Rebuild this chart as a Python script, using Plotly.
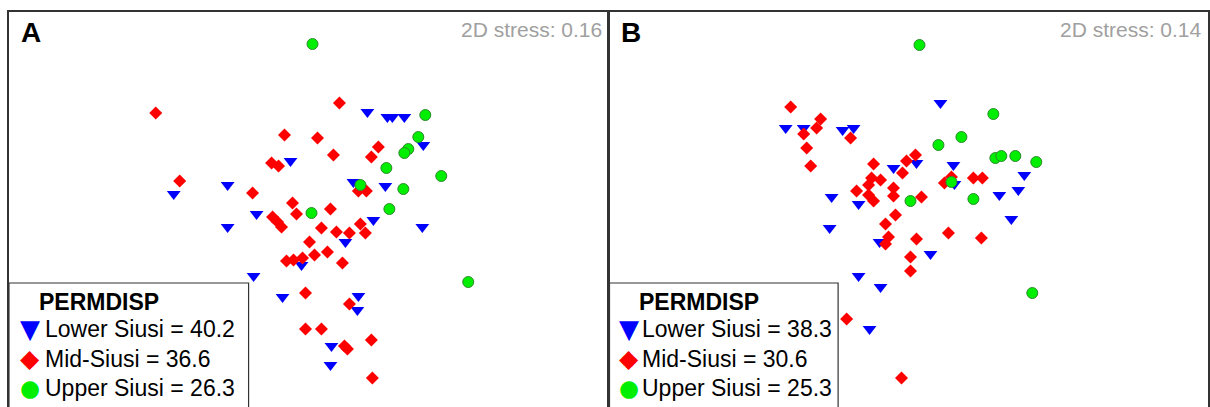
import plotly.graph_objects as go
from plotly.subplots import make_subplots

# ordination scores (plot units, y grows downward)
# panel A
a_lower_x = [291, 228, 174, 368, 388, 393, 405, 424, 354, 386, 257, 228, 374, 423, 346, 302, 254, 283, 359, 358, 332, 331]
a_lower_y = [161, 185, 194, 112, 117, 117, 117, 145, 182, 186, 214, 227, 220, 227, 242, 265, 276, 297, 296, 310, 346, 365]
a_mid_x = [156, 285, 272, 279, 180, 253, 340, 318, 379, 334, 372, 359, 367, 293, 297, 331, 273, 278, 282, 322,
           337, 350, 361, 366, 310, 328, 315, 287, 294, 303, 343, 306, 350, 306, 322, 372, 345, 348, 373]
a_mid_y = [113, 135, 163, 166, 181, 193, 103, 138, 147, 155, 157, 191, 191, 203, 214, 209, 217, 222, 227, 228,
           232, 233, 224, 233, 242, 252, 255, 261, 260, 258, 263, 293, 304, 329, 329, 340, 346, 349, 378]
a_upper_x = [313, 426, 419, 409, 405, 387, 442, 361, 404, 312, 390, 469]
a_upper_y = [44, 115, 137, 149, 153, 168, 176, 185, 189, 213, 209, 282]

# panel B
b_lower_x = [787, 805, 844, 855, 942, 895, 833, 918, 955, 956, 860, 831, 881, 932, 860, 882, 1013, 1026, 1020, 1001, 871]
b_lower_y = [128, 128, 130, 128, 103, 168, 197, 163, 165, 184, 204, 228, 242, 254, 276, 287, 219, 175, 190, 195, 329]
b_mid_x = [792, 822, 818, 805, 852, 808, 812, 875, 917, 908, 904, 873, 882, 870, 858, 895, 895, 946, 953, 975,
           984, 923, 870, 875, 897, 887, 950, 983, 890, 887, 918, 912, 912, 848, 903]
b_mid_y = [107, 119, 128, 134, 138, 148, 166, 164, 155, 161, 173, 178, 180, 185, 191, 188, 196, 183, 177, 178,
           178, 197, 195, 201, 215, 224, 233, 238, 237, 244, 239, 257, 271, 319, 378]
b_upper_x = [921, 995, 963, 940, 997, 1003, 1017, 1038, 953, 912, 975, 1034]
b_upper_y = [45, 114, 137, 145, 158, 156, 156, 162, 182, 201, 199, 293]

a_labels = ["Lower Siusi = 40.2", "Mid-Siusi = 36.6", "Upper Siusi = 26.3"]
b_labels = ["Lower Siusi = 38.3", "Mid-Siusi = 30.6", "Upper Siusi = 25.3"]
stress = ["2D stress: 0.16", "2D stress: 0.14"]

W, H = 1210, 407
FONT = "Arial, Liberation Sans, sans-serif"

styles = [
    dict(symbol="triangle-down", size=12, color="#0000ff", line=dict(width=0)),
    dict(symbol="diamond", size=10, color="#ff0000", line=dict(width=0)),
    dict(symbol="circle", size=11, color="#00ee00", line=dict(width=1, color="#2e8b2e")),
]
# legend glyphs (colour, char, size)
glyphs = [("#0000ff", "▼", 26), ("#ff0000", "◆", 25), ("#00ee00", "●", 23)]

fig = make_subplots(rows=1, cols=2, horizontal_spacing=0)

panels = [
    (1, a_labels, [(a_lower_x, a_lower_y), (a_mid_x, a_mid_y), (a_upper_x, a_upper_y)]),
    (2, b_labels, [(b_lower_x, b_lower_y), (b_mid_x, b_mid_y), (b_upper_x, b_upper_y)]),
]
for col, labels, series in panels:
    for (xs, ys), name, st in zip(series, labels, styles):
        fig.add_trace(go.Scatter(x=xs, y=ys, mode="markers", name=name, showlegend=False,
                                 marker=st, hoverinfo="skip"), row=1, col=col)

# panel frames: top line + left/right lines, open at the bottom
top = 1 - 12 / H
fig.update_layout(
    xaxis=dict(domain=[9 / W, 609.5 / W], range=[9, 609.5]),
    xaxis2=dict(domain=[610.5 / W, 1], range=[610.5, 1210]),
    yaxis=dict(domain=[0, top], range=[407, 12]),
    yaxis2=dict(domain=[0, top], range=[407, 12]),
)
fig.update_xaxes(showgrid=False, zeroline=False, showticklabels=False, ticks="",
                 showline=True, side="top", linecolor="#333", linewidth=1.5, mirror=False)
fig.update_yaxes(showgrid=False, zeroline=False, showticklabels=False, ticks="",
                 showline=True, mirror=True, linecolor="#333", linewidth=1.5)


def px_x(v):
    return v / W


def px_y(v):
    return 1 - v / H


annotations = []
shapes = []
boxes = [(9, 609.5, 240, "A", a_labels), (610.5, 1210, 229, "B", b_labels)]
for i, (x0, x1, bw, letter, labels) in enumerate(boxes):
    annotations.append(dict(x=px_x(x0 + 10), y=px_y(32.5), text="<b>%s</b>" % letter,
                            xanchor="left", font=dict(size=28, color="black", family=FONT)))
    annotations.append(dict(x=px_x(x1 - 4), y=px_y(29.5), text=stress[i], xanchor="right",
                            font=dict(size=21, color="#a0a0a0", family=FONT)))
    annotations.append(dict(x=px_x(x0 + 28), y=px_y(302), text="<b>PERMDISP</b>", xanchor="left",
                            font=dict(size=23, color="black", family=FONT)))
    gx = x0 + 21 - 1.5 * i
    tx = x0 + 34 - 3 * i
    for row, (label, (gc, ch, gs)) in enumerate(zip(labels, glyphs)):
        ry = 329 + 29.5 * row
        annotations.append(dict(x=px_x(gx), y=px_y(ry), text=ch, xanchor="center",
                                font=dict(size=gs, color=gc, family="DejaVu Sans")))
        annotations.append(dict(x=px_x(tx), y=px_y(ry), text=label, xanchor="left",
                                font=dict(size=23, color="black", family=FONT)))
    shapes.append(dict(type="rect", xref="paper", yref="paper",
                       x0=px_x(x0), x1=px_x(x0 + bw), y0=-0.2, y1=px_y(283),
                       line=dict(color="#333", width=1.2), fillcolor="white", layer="below"))

for a in annotations:
    a.update(xref="paper", yref="paper", showarrow=False, yanchor="middle")

fig.update_layout(
    width=W, height=H,
    margin=dict(l=0, r=0, t=0, b=0),
    paper_bgcolor="white", plot_bgcolor="rgba(0,0,0,0)",
    showlegend=False,
    annotations=annotations,
    shapes=shapes,
)

fig.write_html("out.html", config={"displayModeBar": False},
               post_script="document.body.style.margin='0px';")
